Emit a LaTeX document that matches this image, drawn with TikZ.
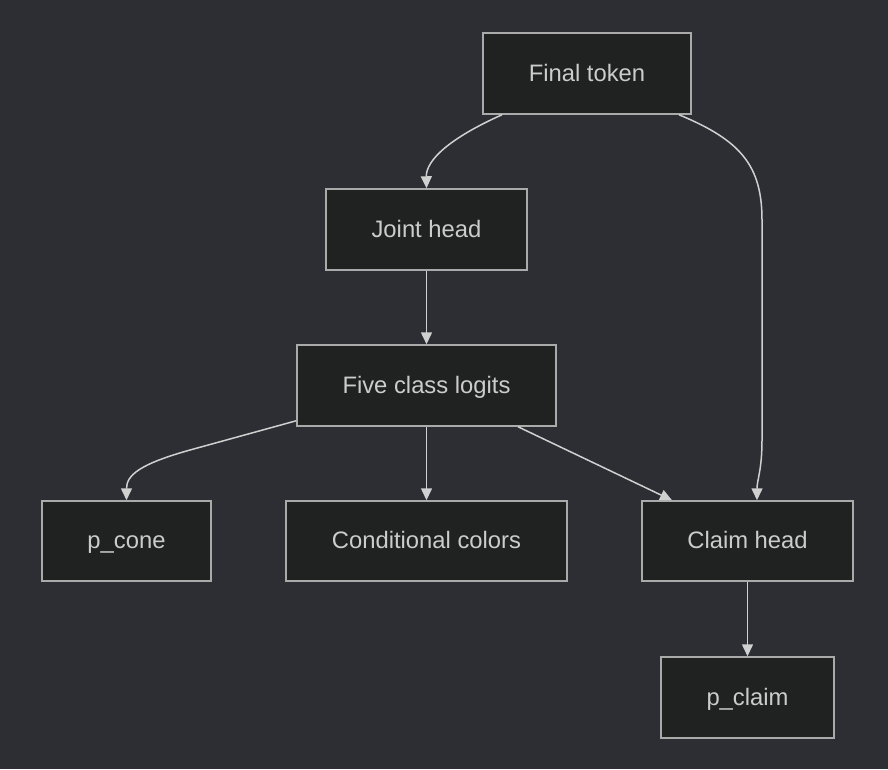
\documentclass[tikz,border=0pt]{standalone}
\usepackage{fontspec}
\setmainfont{Liberation Sans}
\usetikzlibrary{arrows.meta}
\definecolor{bgc}{HTML}{2D2E33}
\definecolor{boxfill}{HTML}{202121}
\definecolor{boxline}{HTML}{AAAAAA}
\definecolor{txt}{HTML}{CCCCCC}
\definecolor{edge}{HTML}{D0D0D0}
\tikzset{
  box/.style={draw=boxline, fill=boxfill, line width=1.5pt, inner sep=0pt,
    text=txt, font=\fontsize{23.8}{28}\selectfont, text height=17pt, text depth=2pt},
  conn/.style={draw=edge, line width=1.5pt, -{Triangle[length=12pt,width=11pt]}},
}
\begin{document}
\begin{tikzpicture}[x=1pt,y=-1pt]
\fill[bgc] (0,0) rectangle (888,769);
\useasboundingbox (0,0) rectangle (888,769);
\node[box, minimum width=208pt, minimum height=81pt] (ft) at (587,73.5) {Final token};
\node[box, minimum width=201pt, minimum height=81pt] (jh) at (426.5,229.5) {Joint head};
\node[box, minimum width=259pt, minimum height=81pt] (fc) at (426.5,385.5) {Five class logits};
\node[box, minimum width=169pt, minimum height=80pt] (pc) at (126.5,541) {p\_cone};
\node[box, minimum width=281pt, minimum height=80pt] (cc) at (426.5,541) {Conditional colors};
\node[box, minimum width=211pt, minimum height=80pt] (ch) at (747.5,541) {Claim head};
\node[box, minimum width=173pt, minimum height=81pt] (pl) at (747.5,697.5) {p\_claim};

\coordinate (a1) at ([xshift=-85pt]ft.south);
\coordinate (a2) at ([xshift=92pt]ft.south);
\coordinate (b1) at ([yshift=6pt]fc.south west);
\coordinate (b2) at ([xshift=91.5pt]fc.south);
\coordinate (c1) at ([xshift=-75.5pt]ch.north);
\coordinate (c2) at ([xshift=9.5pt]ch.north);

\draw[conn] (a1) .. controls (450,138) and (426,160) .. (jh.north);
\draw[conn] (a2) .. controls (740,140) and (762,165) .. (762,220) -- (762,440) .. controls (762,470) and (757,480) .. (c2);
\draw[conn] (jh) -- (fc);
\draw[conn] (b1) -- (190,450) .. controls (140,464) and (126.5,475) .. (pc.north);
\draw[conn] (fc) -- (cc);
\draw[conn] (b2) -- (c1);
\draw[conn] (ch) -- (pl);
\end{tikzpicture}
\end{document}
